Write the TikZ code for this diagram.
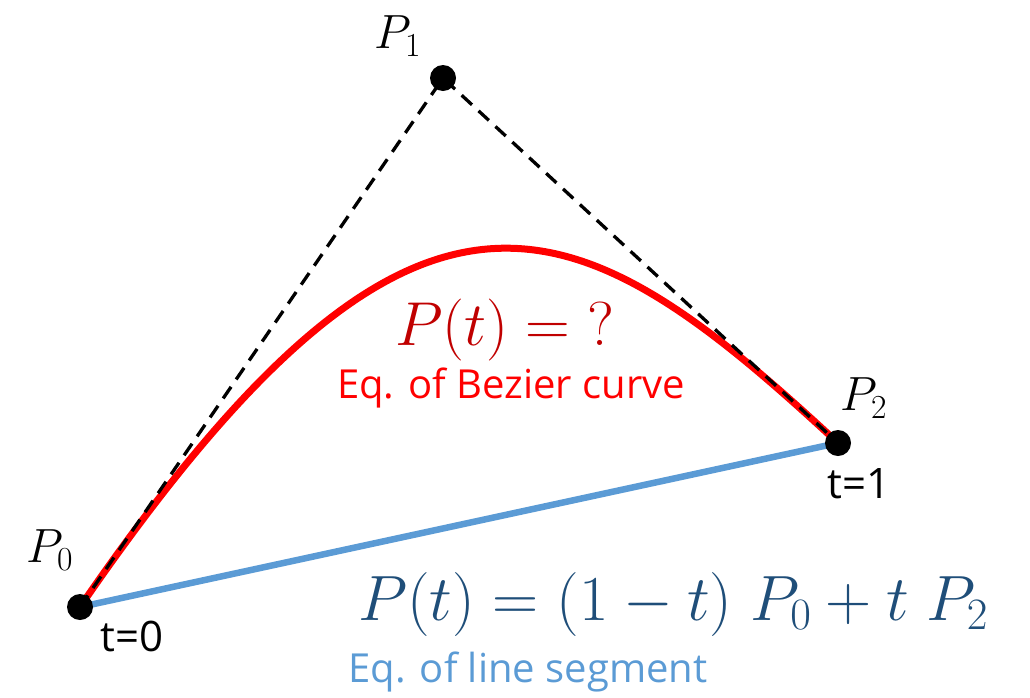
\RequirePackage{fix-cm}
\documentclass[tikz,border=0pt]{standalone}
\usepackage{fontspec}
\setmainfont{Open Sans}
\definecolor{curvered}{HTML}{FF0000}
\definecolor{eqred}{HTML}{C00000}
\definecolor{lineblue}{HTML}{5B9BD5}
\definecolor{eqblue}{HTML}{1F4E79}
\begin{document}
\begin{tikzpicture}[x=1pt,y=-1pt,
  dot/.style={circle,fill=black,inner sep=0pt,minimum size=26pt},
  ctrlline/.style={draw=black,line width=3.3pt,dash pattern=on 14pt off 9pt},
  bezcurve/.style={draw=curvered,line width=7pt},
  segline/.style={draw=lineblue,line width=6.5pt},
  ptlabel/.style={inner sep=0pt,font=\fontsize{48}{52}\selectfont},
  tlabel/.style={inner sep=0pt,font=\fontsize{42}{46}\selectfont},
  redeq/.style={inner sep=0pt,font=\fontsize{62}{68}\selectfont},
  bigeq/.style={inner sep=0pt,font=\fontsize{64}{70}\selectfont},
  caption/.style={inner sep=0pt,font=\fontsize{40}{46}\selectfont}]
\useasboundingbox (0,0) rectangle (1030,697);
\coordinate (p0c) at (80,607);
\coordinate (p1c) at (443,78);
\coordinate (p2c) at (838,443);
\coordinate (c1) at (418,115);
\coordinate (c2) at (575,199);
\draw[segline] (p0c) -- (p2c);
\draw[bezcurve] (p0c) .. controls (c1) and (c2) .. (p2c);
\draw[ctrlline] (p0c) -- (p1c) -- (p2c);
\node[dot] (p0) at (p0c) {};
\node[dot] (p1) at (p1c) {};
\node[dot] (p2) at (p2c) {};
\node[ptlabel] (l0) at (50,550) {$P_0$};
\node[ptlabel] (l1) at (398,36) {$P_1$};
\node[ptlabel] (l2) at (864,398) {$P_2$};
\node[tlabel] (t0) at (132,636) {t=0};
\node[tlabel] (t1) at (859,484) {t=1};
\node[redeq,text=eqred] (eqb) at (505,330) {$P(t)=\mathord{?}$};
\node[caption,text=curvered] (capb) at (511,388) {Eq. of Bezier curve};
\node[bigeq,text=eqblue] (eql) at (673,604) {$P(t)=(1-t)\;P_0+t\;P_2$};
\node[caption,text=lineblue] (capl) at (528,672) {Eq. of line segment};
\end{tikzpicture}
\end{document}
